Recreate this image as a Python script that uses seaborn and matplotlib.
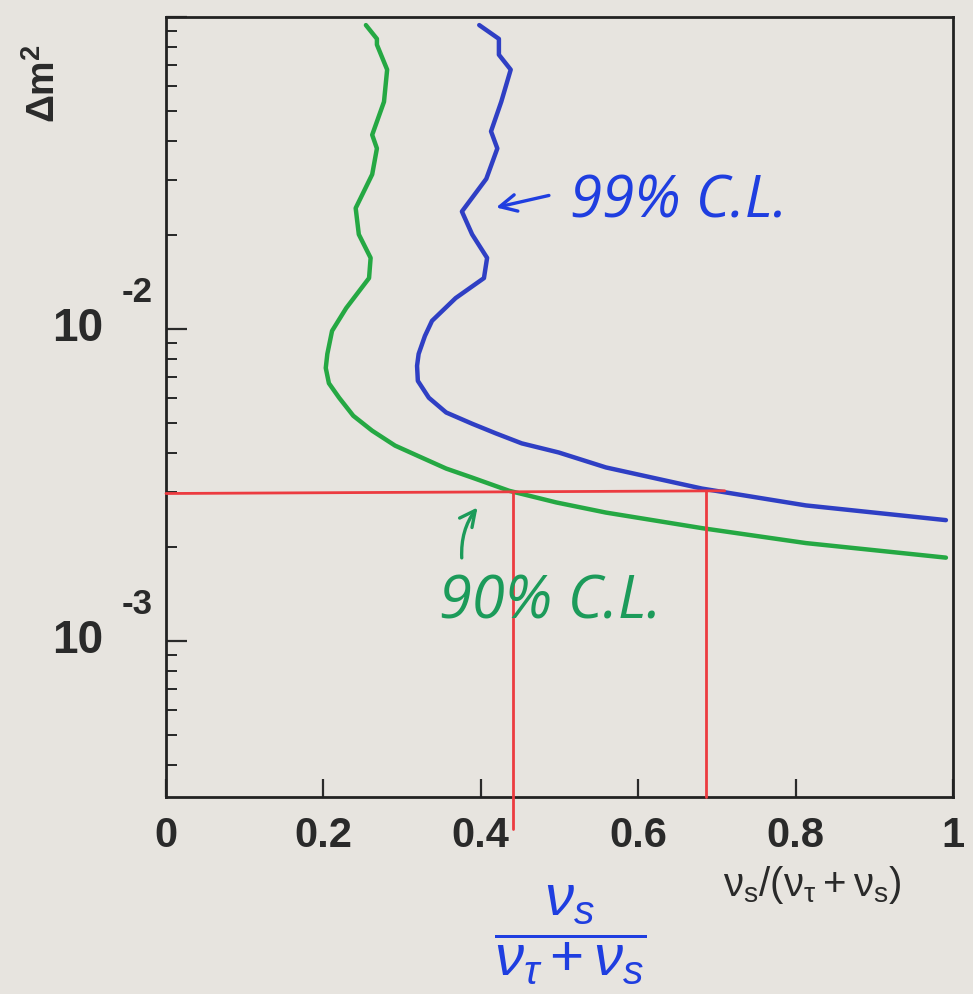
import numpy as np
import pandas as pd
import matplotlib
matplotlib.use("Agg")
import matplotlib.pyplot as plt
import seaborn as sns

# ---- data ----
cl90_x = [0.254, 0.268, 0.268, 0.281, 0.277, 0.262, 0.268, 0.262, 0.241, 0.245,
          0.260, 0.258, 0.229, 0.211, 0.205, 0.203, 0.207, 0.220, 0.238, 0.262,
          0.291, 0.325, 0.356, 0.389, 0.436, 0.496, 0.559, 0.681, 0.813, 0.991]
cl90_dm2 = [0.0942, 0.0851, 0.0815, 0.0678, 0.0535, 0.0419, 0.0379, 0.0313, 0.0244, 0.0201,
            0.0169, 0.01456, 0.01167, 0.00986, 0.00832, 0.0075, 0.00670, 0.00602, 0.00527, 0.00472,
            0.00423, 0.00387, 0.00357, 0.00334, 0.00303, 0.00278, 0.00258, 0.00230, 0.00206, 0.00185]
cl99_x = [0.398, 0.423, 0.423, 0.438, 0.426, 0.413, 0.421, 0.407, 0.376, 0.389,
          0.408, 0.404, 0.368, 0.338, 0.329, 0.321, 0.319, 0.320, 0.334, 0.356, 0.389,
          0.419, 0.452, 0.499, 0.559, 0.681, 0.813, 0.991]
cl99_dm2 = [0.0942, 0.0851, 0.0757, 0.0678, 0.0535, 0.0430, 0.0379, 0.0303, 0.0238, 0.0201,
            0.0169, 0.01456, 0.01256, 0.01062, 0.00950, 0.00832, 0.00762, 0.00682, 0.00602, 0.00540,
            0.00497, 0.00463, 0.00430, 0.00402, 0.00360, 0.00308, 0.00272, 0.00244]
# hand-drawn red guide lines
red_h_x = [0.0, 0.71]
red_h_y = [2.97e-3, 3.03e-3]
red_v1_x = [0.441, 0.441]
red_v1_y = [2.98e-3, 2.5e-4]
red_v2_x = [0.686, 0.686]
red_v2_y = [3.02e-3, 10 ** -3.5]

x_ticks = [0, 0.2, 0.4, 0.6, 0.8, 1]
x_tick_labels = ["0", "0.2", "0.4", "0.6", "0.8", "1"]
y_major = [1e-2, 1e-3]
y_exponents = ["-2", "-3"]

# ---- style ----
sns.set_theme(style="white")
paper = "#e7e4df"
plt.rcParams["font.family"] = ["Liberation Sans", "DejaVu Sans"]
plt.rcParams["mathtext.fontset"] = "custom"
plt.rcParams["mathtext.rm"] = "Liberation Sans"
plt.rcParams["mathtext.it"] = "Liberation Sans:italic"
plt.rcParams["mathtext.bf"] = "Liberation Sans:bold"
plt.rcParams["mathtext.sf"] = "Liberation Sans"

fig = plt.figure(figsize=(9.73, 9.94), dpi=100, facecolor=paper)
ax = fig.add_axes([166 / 973, (994 - 797) / 994, (953 - 166) / 973, (797 - 17) / 994])
ax.set_facecolor(paper)

green = "#25a843"
blue = "#2f3fc4"
red = "#ec3b40"

df = pd.concat([
    pd.DataFrame({"x": cl90_x, "y": cl90_dm2, "cl": "90"}),
    pd.DataFrame({"x": cl99_x, "y": cl99_dm2, "cl": "99"}),
])
sns.lineplot(data=df, x="x", y="y", hue="cl", units="cl", estimator=None, sort=False,
             palette={"90": green, "99": blue}, linewidth=3.2, legend=False, ax=ax)
for ln in ax.lines:
    ln.set_solid_joinstyle("round")
    ln.set_solid_capstyle("round")

for xs, ys in [(red_h_x, red_h_y), (red_v1_x, red_v1_y), (red_v2_x, red_v2_y)]:
    ax.plot(xs, ys, color=red, lw=2.0, clip_on=False, zorder=3)

ax.set_yscale("log")
ax.set_xlim(0, 1)
ax.set_ylim(10 ** -3.5, 10 ** -1)
ax.set_xlabel("")
ax.set_ylabel("")

for s in ax.spines.values():
    s.set_color("#222222")
    s.set_linewidth(2.0)

ax.set_xticks(x_ticks)
ax.set_xticklabels(x_tick_labels, fontsize=30, fontweight="bold", color="#2a2a2a")
ax.tick_params(axis="x", direction="in", length=13, width=1.6, pad=14, top=False, bottom=True,
               colors="#2a2a2a")
ax.tick_params(axis="y", which="major", direction="in", length=15, width=1.6, left=True,
               right=False, labelleft=False)
ax.tick_params(axis="y", which="minor", direction="in", length=8, width=1.4, left=True,
               right=False, labelleft=False)
ax.yaxis.set_minor_locator(matplotlib.ticker.LogLocator(base=10, subs=np.arange(2, 10)))
ax.yaxis.set_minor_formatter(matplotlib.ticker.NullFormatter())
ax.tick_params(colors="#2a2a2a")

ytr = ax.get_yaxis_transform()
for v, e in zip(y_major, y_exponents):
    ax.annotate("10", xy=(0, v), xycoords=ytr, xytext=(-63, 0), textcoords="offset pixels",
                ha="right", va="center", fontsize=33, fontweight="bold", color="#2a2a2a",
                annotation_clip=False)
    ax.annotate(e, xy=(0, v), xycoords=ytr, xytext=(-44, 36), textcoords="offset pixels",
                ha="left", va="center", fontsize=25, fontweight="bold", color="#2a2a2a",
                annotation_clip=False)

# axis titles
fig.text(44 / 973, 1 - 83 / 994, r"$\mathbf{\Delta m^2}$", rotation=90, ha="center", va="center",
         fontsize=28, color="#2a2a2a")
fig.text(902 / 973, 1 - 885 / 994, r"$\mathrm{\nu_{s}/(\nu_{\tau}+\nu_{s})}$",
         ha="right", va="center", fontsize=29, color="#2a2a2a")

# handwritten annotations
hand = dict(fontstyle="italic", family=["Open Sans", "DejaVu Sans"])
ax.annotate("", xy=(0.416, 0.755), xytext=(0.490, 0.772), xycoords="axes fraction",
            arrowprops=dict(arrowstyle="->", color="#1f3ee0", lw=2.4, mutation_scale=30))
ax.text(0.513, 0.762, "99% C.L.", transform=ax.transAxes, ha="left", va="center",
        fontsize=42, color="#1f3ee0", **hand)
ax.annotate("", xy=(0.398, 0.374), xytext=(0.376, 0.303), xycoords="axes fraction",
            arrowprops=dict(arrowstyle="->", color="#1c9b5a", lw=2.4, mutation_scale=28,
                            connectionstyle="arc3,rad=-0.2"))
ax.text(0.488, 0.249, "90% C.L.", transform=ax.transAxes, ha="center", va="center",
        fontsize=43, color="#1c9b5a", **hand)
fig.text(570 / 973, 1 - 935 / 994, r"$\dfrac{\nu_s}{\nu_\tau+\nu_s}$", ha="center", va="center",
         fontsize=42, color="#1f3ee0")

fig.savefig("out.png", dpi=100, facecolor=paper)
